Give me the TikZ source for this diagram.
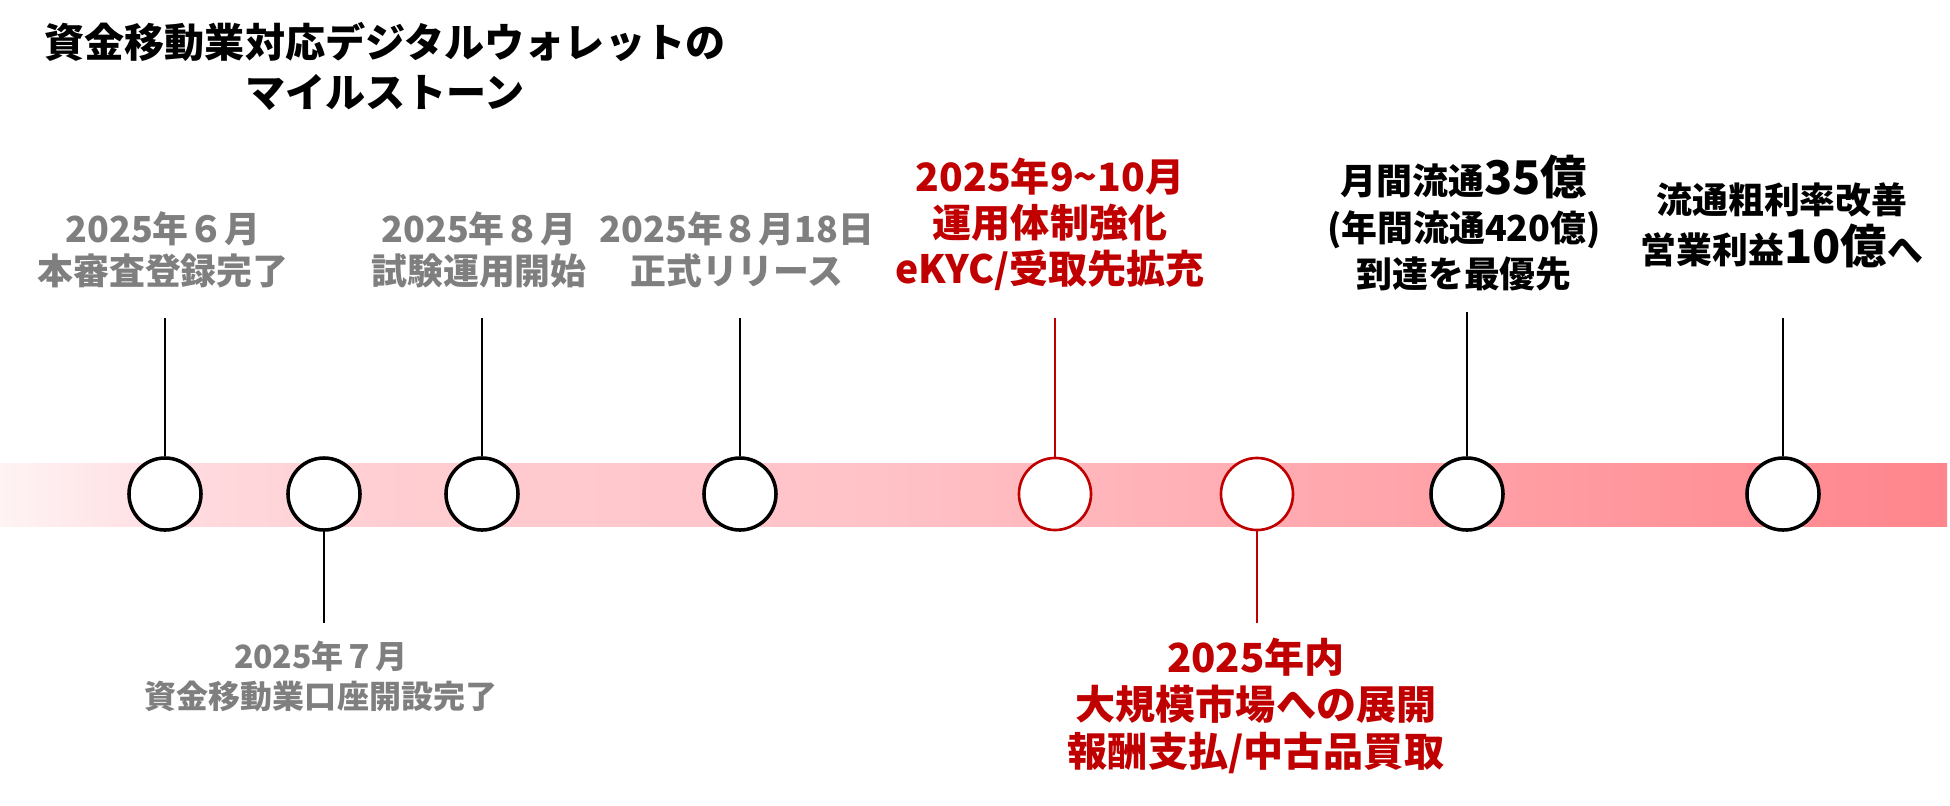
\documentclass[tikz,border=0pt]{standalone}
\usepackage{fontspec}
\setmainfont{Noto Sans CJK JP}

\definecolor{labelgray}{HTML}{7F7F7F}
\definecolor{accentred}{HTML}{C00000}
\definecolor{bandA}{HTML}{FFF3F4}
\definecolor{bandB}{HTML}{FFDADE}
\definecolor{bandC}{HTML}{FFCDD1}
\definecolor{bandD}{HTML}{FFC2C7}
\definecolor{bandE}{HTML}{FFA7AD}
\definecolor{bandF}{HTML}{FF858C}
\pgfdeclarehorizontalshading{bandfade}{100bp}{color(0bp)=(bandA); color(25bp)=(bandA);
  color(30bp)=(bandB); color(35.3bp)=(bandC); color(47.6bp)=(bandD);
  color(59.7bp)=(bandE); color(75bp)=(bandF); color(100bp)=(bandF)}

\tikzset{
  milestone/.style={circle, draw=black, line width=1pt, fill=white, minimum size=0.72cm, inner sep=0pt},
  redstone/.style={milestone, draw=accentred, line width=0.75pt},
  stem/.style={line width=0.75pt},
  graylabel/.style={align=center, text=labelgray, font=\bfseries\fontsize{10.2}{12}\selectfont},
  redlabel/.style={align=center, text=accentred, font=\bfseries\fontsize{11.1}{13.1}\selectfont},
  goallabel/.style={align=center, text=black, font=\bfseries\fontsize{10.2}{13.2}\selectfont},
}
\newcommand{\bignum}[1]{{\fontsize{13.2}{13.2}\selectfont #1}}

\begin{document}
\begin{tikzpicture}[x=0.01cm, y=-0.01cm]
    \useasboundingbox (0,0) rectangle (1950,805);
    % Title
    \node[align=center, font=\bfseries\fontsize{11.4}{14.2}\selectfont] (title) at (385,66)
        {資金移動業対応デジタルウォレットの\\マイルストーン};
    % Band
    \fill[shading=bandfade] (0,463) rectangle (1947,526);
    % Milestones
    \node[milestone] (m1) at (165,494) {};
    \node[milestone] (m2) at (324,494) {};
    \node[milestone] (m3) at (482,494) {};
    \node[milestone] (m4) at (740,494) {};
    \node[redstone]  (m5) at (1055,494) {};
    \node[redstone]  (m6) at (1257,494) {};
    \node[milestone] (m7) at (1467,494) {};
    \node[milestone] (m8) at (1783,494) {};
    % Stem ends
    \coordinate (t1) at (165,318);
    \coordinate (b2) at (324,623);
    \coordinate (t3) at (482,318);
    \coordinate (t4) at (740,318);
    \coordinate (t5) at (1055,318);
    \coordinate (b6) at (1257,623);
    \coordinate (t7) at (1467,312);
    \coordinate (t8) at (1783,318);
    % Stems
    \draw[stem] (m1) -- (t1);
    \draw[stem] (m2) -- (b2);
    \draw[stem] (m3) -- (t3);
    \draw[stem] (m4) -- (t4);
    \draw[stem, accentred] (m5) -- (t5);
    \draw[stem, accentred] (m6) -- (b6);
    \draw[stem] (m7) -- (t7);
    \draw[stem] (m8) -- (t8);
    % Labels
    \node[graylabel] (l1) at (163,250) {2025年６月\\本審査登録完了};
    \node[graylabel, font=\bfseries\fontsize{9.1}{11.4}\selectfont] (l2) at (321,676) {2025年７月\\資金移動業口座開設完了};
    \node[graylabel] (l3) at (479,250) {2025年８月\\試験運用開始};
    \node[graylabel] (l4) at (737,250) {2025年８月18日\\正式リリース};
    \node[redlabel] (l5) at (1050,224) {2025年9\textasciitilde10月\\運用体制強化\\eKYC/受取先拡充};
    \node[redlabel, font=\bfseries\fontsize{11.4}{13.4}\selectfont] (l6) at (1256,706) {2025年内\\大規模市場への展開\\報酬支払/中古品買取};
    \node[goallabel] (l7) at (1464,223) {月間流通\bignum{35億}\\(年間流通420億)\\到達を最優先};
    \node[goallabel, font=\bfseries\fontsize{10.2}{14.2}\selectfont] (l8) at (1782,225) {流通粗利率改善\\営業利益\bignum{10億}へ};
\end{tikzpicture}
\end{document}
